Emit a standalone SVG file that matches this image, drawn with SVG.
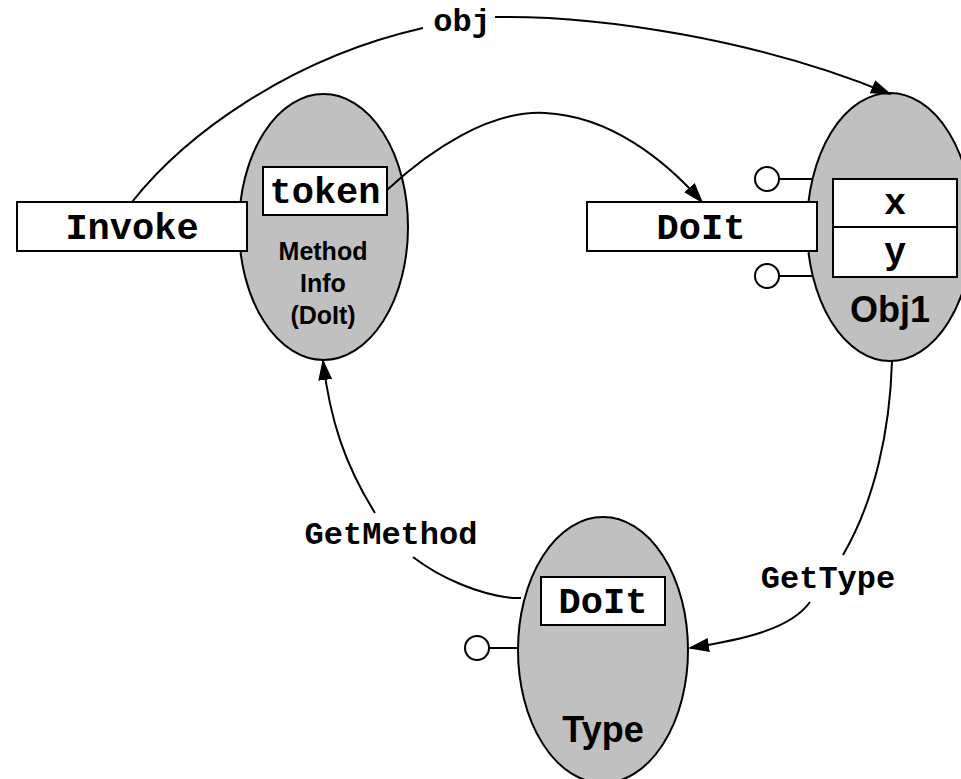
<svg xmlns="http://www.w3.org/2000/svg" width="961" height="779" viewBox="0 0 961 779">
<style>
.ell{fill:#c0c0c0;stroke:#000;stroke-width:2}
.box{fill:#fff;stroke:#000;stroke-width:2}
.mono{font-family:"Liberation Mono","Courier New",monospace;font-weight:bold;fill:#000;text-anchor:middle}
.big{font-size:37px}
.lbl{font-size:32px}
.sans{font-family:"Liberation Sans",Arial,sans-serif;font-weight:bold;fill:#000;text-anchor:middle}
.con{fill:none;stroke:#000;stroke-width:2}
.lol{fill:#fff;stroke:#000;stroke-width:2}
</style>
<defs>
<marker id="arr" markerUnits="userSpaceOnUse" markerWidth="22" markerHeight="16" refX="19" refY="7" orient="auto">
<path d="M0,0 L21,7 L0,14 z" fill="#000"/>
</marker>
</defs>
<rect width="961" height="779" fill="#fff"/>
<g id="methodinfo">
<ellipse class="ell" cx="323.5" cy="227" rx="84.5" ry="133"/>
<rect class="box" x="263" y="167" width="124" height="48"/>
<text class="mono big" x="325" y="203">token</text>
<text class="sans" font-size="25" x="323" y="260">Method</text>
<text class="sans" font-size="25" x="323" y="292">Info</text>
<text class="sans" font-size="25" x="323" y="324">(DoIt)</text>
</g>
<g id="invoke">
<rect class="box" x="17" y="202" width="230" height="49"/>
<text class="mono big" x="132" y="239">Invoke</text>
</g>
<g id="obj1">
<line class="con" x1="779" y1="179" x2="813" y2="179"/>
<line class="con" x1="779" y1="276" x2="813" y2="276"/>
<circle class="lol" cx="767" cy="179" r="12"/>
<circle class="lol" cx="767" cy="276" r="12"/>
<ellipse class="ell" cx="890" cy="227" rx="83" ry="134"/>
<rect class="box" x="833" y="179" width="124" height="48"/>
<rect class="box" x="833" y="227" width="124" height="50"/>
<text class="mono big" x="895" y="214">x</text>
<text class="mono big" x="895" y="263">y</text>
<text class="sans" font-size="36" x="890" y="322">Obj1</text>
</g>
<g id="doit">
<rect class="box" x="587" y="202" width="230" height="49"/>
<text class="mono big" x="701" y="239">DoIt</text>
</g>
<g id="type">
<line class="con" x1="489" y1="648" x2="519" y2="648"/>
<circle class="lol" cx="477" cy="648" r="12"/>
<ellipse class="ell" cx="603" cy="650" rx="85" ry="133"/>
<rect class="box" x="541" y="577" width="124" height="48"/>
<text class="mono big" x="603" y="613">DoIt</text>
<text class="sans" font-size="36" x="603" y="742">Type</text>
</g>
<g id="connectors">
<path class="con" d="M132,202 C185,135 290,58 423,28"/>
<path class="con" d="M495,17 C600,15 760,40 890,94" marker-end="url(#arr)"/>
<text class="mono lbl" x="462" y="31">obj</text>
<path class="con" d="M387,190 C430,150 490,110 545,113 C610,116 665,160 702,202" marker-end="url(#arr)"/>
<path class="con" d="M892,361 C890,430 875,500 843,555"/>
<path class="con" d="M810,602 C790,630 740,640 690,648" marker-end="url(#arr)"/>
<text class="mono lbl" x="828" y="588">GetType</text>
<path class="con" d="M521,598 L513,598 C480,595 440,578 413,557"/>
<path class="con" d="M375,513 C345,465 330,420 323,361" marker-end="url(#arr)"/>
<text class="mono lbl" x="391" y="544">GetMethod</text>
</g>
</svg>
